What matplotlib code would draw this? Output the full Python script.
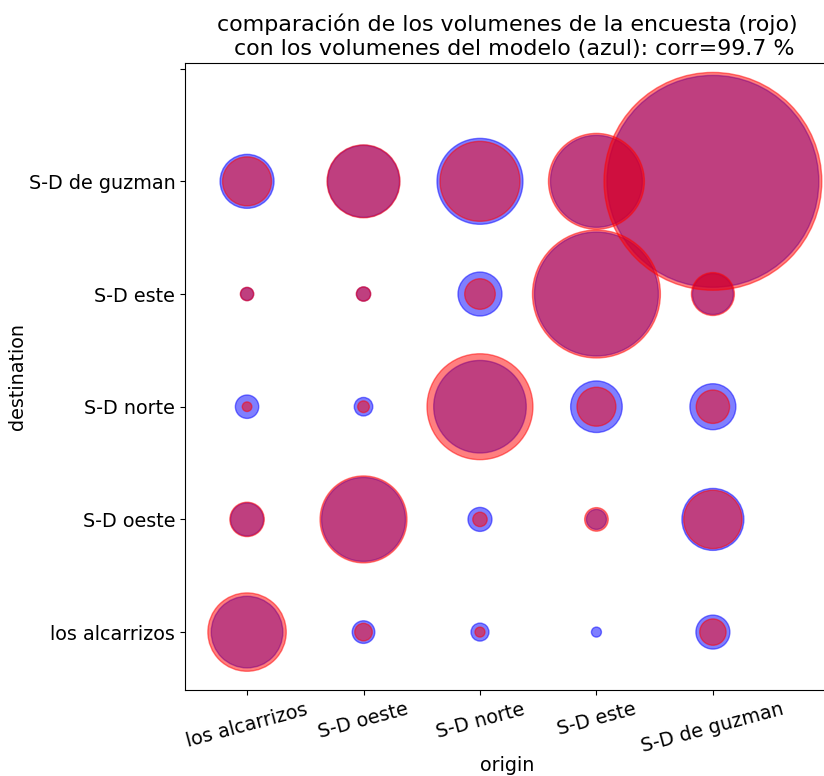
import numpy as np
import matplotlib
matplotlib.use("Agg")
import matplotlib.pyplot as plt

zones = ["los alcarrizos", "S-D oeste", "S-D norte", "S-D este", "S-D de guzman"]

# rows = destination (bottom to top), columns = origin
encuesta = [
    [1537, 77, 25, 0, 174],
    [296, 1892, 52, 139, 853],
    [23, 34, 2809, 380, 279],
    [45, 52, 234, 4096, 462],
    [600, 1332, 1600, 2304, 11881],
]
modelo = [
    [1282, 128, 81, 25, 289],
    [272, 1764, 144, 100, 961],
    [137, 86, 2144, 666, 529],
    [42, 49, 484, 3844, 420],
    [729, 1296, 1849, 2116, 11236],
]
corr = 99.7

n = len(zones)
ox, dy = np.meshgrid(np.arange(n), np.arange(n))
size_scale = 2.07  # volume -> marker area (pt^2)

fig = plt.figure(figsize=(8.24, 7.76), dpi=100)
ax = fig.add_axes([0.2245, 0.1108, 0.782, 0.808])

ax.scatter(ox.ravel(), dy.ravel(), s=np.array(modelo).ravel() * size_scale,
           c="b", alpha=0.5, linewidths=1)
ax.scatter(ox.ravel(), dy.ravel(), s=np.array(encuesta).ravel() * size_scale,
           c="r", alpha=0.5, linewidths=1)

ax.set_xticks(range(n + 1))
ax.set_xticklabels(zones + [""], rotation=15, fontsize=13.8)
ax.set_yticks(range(n + 1))
ax.set_yticklabels(zones + [""], fontsize=13.8)
ax.set_xlim(-0.533, 5.0)
ax.set_ylim(-0.514, 5.05)

ax.set_xlabel("origin", fontsize=13.8)
ax.set_ylabel("destination", fontsize=13.8)
ax.xaxis.set_label_coords(0.5, -0.105)
ax.yaxis.set_label_coords(-0.245, 0.5)
ax.set_title("comparación de los volumenes de la encuesta (rojo)\n"
             "  con los volumenes del modelo (azul): corr=%.1f %%" % corr, fontsize=15.9)

fig.savefig("out.png", dpi=100)
